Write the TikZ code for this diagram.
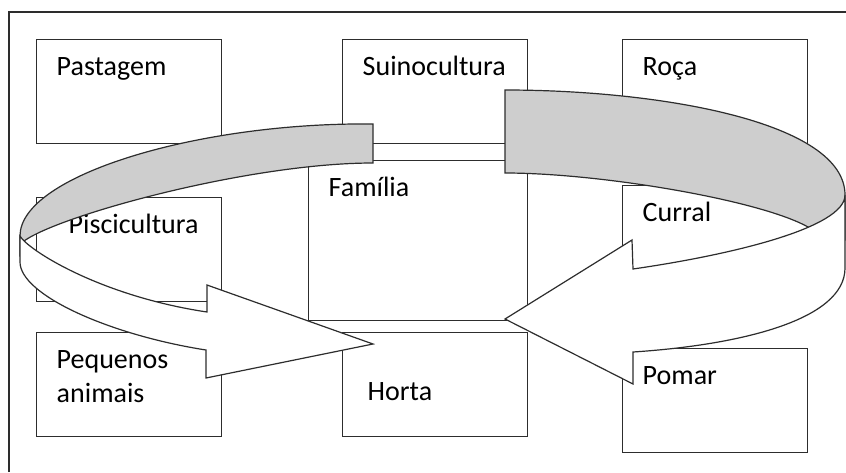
\documentclass[tikz,border=0pt]{standalone}
\usepackage{fontspec}
\setmainfont{Carlito}
\usepackage{tikz}
\usetikzlibrary{positioning}

\definecolor{boxline}{RGB}{45,45,45}
\definecolor{bandgray}{RGB}{206,206,206}

\begin{document}
\begin{tikzpicture}[
        x=0.75pt, y=-0.75pt,
        box/.style={rectangle, draw=boxline, line width=1.1pt, inner xsep=15pt, inner ysep=0pt,
            text width=108.75pt, align=left, text height=27pt, text depth=51pt,
            font=\fontsize{21pt}{25.5pt}\selectfont},
        band/.style={draw=boxline, line width=0.9pt},
        back/.style={band, fill=bandgray},
        front/.style={band, fill=white}
    ]

    \useasboundingbox (0,0) rectangle (846,472);

    % Outer frame
    \draw[boxline, line width=1.1pt] (9,472) |- (846,12);

    % Top row
    \node[box, anchor=north west] (pastagem) at (36,39) {Pastagem};
    \node[box, right=89.65pt of pastagem] (suino) {Suinocultura};
    \node[box, right=70.15pt of suino] (roca) {Roça};

    % Family in the middle
    \node[box, below=11.65pt of suino, xshift=-12.75pt, text width=134.25pt, text depth=93pt] (familia) {Família};

    % Left column
    \node[box, below=39.4pt of pastagem] (pisci) {\hspace*{9pt}Piscicultura};
    \node[box, below=22.15pt of pisci] (pequenos) {Pequenos\\animais};

    % Right column
    \node[box, below=30.4pt of roca] (curral) {Curral};
    \node[box, below=43.15pt of curral] (pomar) {Pomar};

    % Garden under the family
    \node[box, below=7.9pt of familia, xshift=12.75pt, text height=51pt, text depth=27pt] (horta) {\hspace*{3.75pt}Horta};

    % Left band, back part
    \draw[back] (373,124) .. controls (200,122) and (20,175) .. (20,236)
        -- (20,256) -- (34,256) -- (24,241)
        .. controls (60,215) and (250,163) .. (373,163) -- cycle;

    % Left band, front part with head
    \draw[front] (20,236) .. controls (28,250) and (100,296) .. (207,312)
        -- (207,285) -- (373,344) -- (206,378) -- (206,350)
        .. controls (110,335) and (20,295) .. (20,262) -- cycle;

    % Right band, back part
    \draw[back] (505,90) .. controls (660,90) and (845,122) .. (845,195)
        -- (845,240) -- (800,245) -- (808,227)
        .. controls (760,200) and (600,173) .. (505,173) -- cycle;

    % Right band, front part with head
    \draw[front] (845,195) .. controls (845,228) and (730,255) .. (633,269)
        -- (632,240) -- (505,319) -- (633,384) -- (633,352)
        .. controls (740,345) and (845,320) .. (845,268) -- cycle;

\end{tikzpicture}
\end{document}
